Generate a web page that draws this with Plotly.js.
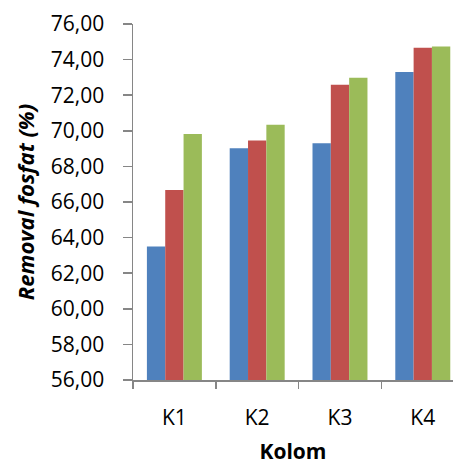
<!DOCTYPE html>
<html>
<head>
<meta charset="utf-8">
<script src="https://cdn.plot.ly/plotly-3.0.1.min.js"></script>
<style>html,body{margin:0;padding:0;background:#fff;}#chart{width:453px;height:465px;}</style>
</head>
<body>
<div id="chart"></div>
<script>
const categories = ["K1", "K2", "K3", "K4"];
const series1 = [63.50, 69.02, 69.30, 73.30];
const series2 = [66.67, 69.45, 72.59, 74.67];
const series3 = [69.82, 70.34, 72.98, 74.74];
const seriesColors = ["#4F81BD", "#C0504D", "#9BBB59"];
const yTitle = "Removal fosfat (%)";
const xTitle = "Kolom";

const font = "Open Sans, Liberation Sans, sans-serif";
const allSeries = [series1, series2, series3];
const traces = allSeries.map((vals, i) => ({
  type: "bar",
  x: categories,
  y: vals,
  marker: {color: seriesColors[i], line: {width: 0}},
  hoverinfo: "skip"
}));

const layout = {
  width: 453,
  height: 465,
  margin: {l: 133, r: 0, t: 24, b: 85, pad: 0},
  paper_bgcolor: "#ffffff",
  plot_bgcolor: "#ffffff",
  showlegend: false,
  barmode: "group",
  bargap: 0.336,
  bargroupgap: 0,
  separators: ",.",
  font: {family: font, color: "#000000", size: 21},
  xaxis: {
    type: "category",
    range: [-0.5, 3.365],
    showgrid: false,
    zeroline: false,
    showline: true,
    linecolor: "#868686",
    linewidth: 1.5,
    ticks: "outside",
    tickson: "boundaries",
    ticklen: 7,
    tickwidth: 1.5,
    tickcolor: "#868686",
    ticklabelstandoff: 18,
    tickfont: {family: font, size: 21, color: "#000"},
    title: {text: "<b>" + xTitle + "</b>", font: {family: font, size: 21, color: "#000"}, standoff: 18}
  },
  yaxis: {
    range: [56, 76],
    dtick: 2,
    tick0: 56,
    tickformat: ".2f",
    showgrid: false,
    zeroline: false,
    showline: true,
    linecolor: "#868686",
    linewidth: 1.5,
    ticks: "outside",
    ticklen: 9,
    tickwidth: 1.5,
    tickcolor: "#868686",
    ticklabelstandoff: 14,
    tickfont: {family: font, size: 21, color: "#000"},
    title: {text: "<b><i>" + yTitle + "</i></b>", font: {family: font, size: 22, color: "#000"}, standoff: 10}
  }
};

Plotly.newPlot("chart", traces, layout, {staticPlot: true, displayModeBar: false});
</script>
</body>
</html>
